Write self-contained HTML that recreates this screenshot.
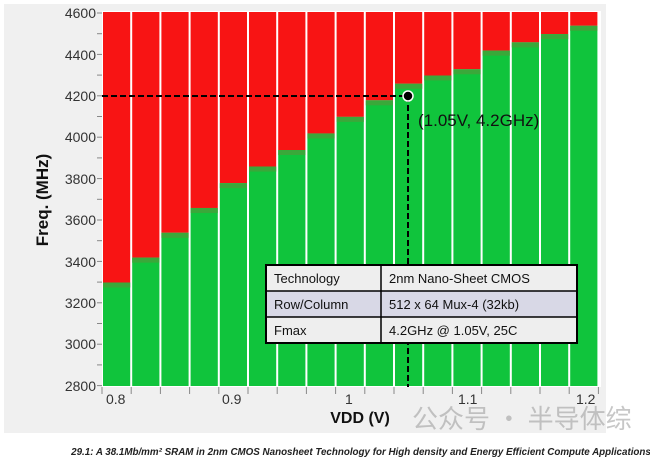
<!DOCTYPE html>
<html><head><meta charset="utf-8"><style>
body{margin:0;width:650px;height:469px;background:#fff;overflow:hidden;position:relative;font-family:"Liberation Sans",sans-serif}
</style></head><body>
<svg width="650" height="469" style="position:absolute;left:0;top:0" font-family="Liberation Sans, sans-serif">
<rect x="4" y="4" width="602" height="429" fill="#f0f0f0"/>
<rect x="102" y="11" width="499" height="376" fill="#fff"/>
<g id="bars"></g>
<g font-size="14" fill="#333" text-anchor="end">
<text x="96" y="18">4600</text><text x="96" y="60">4400</text><text x="96" y="101">4200</text><text x="96" y="142">4000</text><text x="96" y="184">3800</text><text x="96" y="225">3600</text><text x="96" y="267">3400</text><text x="96" y="308">3200</text><text x="96" y="349">3000</text><text x="96" y="391">2800</text>
</g>
<text transform="translate(48,200) rotate(-90)" font-size="17" font-weight="bold" fill="#111" text-anchor="middle">Freq. (MHz)</text>
<g font-size="14" fill="#333">
<text x="106" y="404">0.8</text><text x="222" y="404">0.9</text><text x="345" y="404">1</text><text x="458" y="404">1.1</text><text x="576" y="404">1.2</text>
</g>
<text x="360" y="423" font-size="16" font-weight="bold" fill="#111" text-anchor="middle">VDD (V)</text>
<text x="361" y="455" font-size="9.8" font-style="italic" font-weight="bold" fill="#222" text-anchor="middle">29.1: A 38.1Mb/mm² SRAM in 2nm CMOS Nanosheet Technology for High density and Energy Efficient Compute Applications</text>
<line x1="102" y1="96" x2="408" y2="96" stroke="#000" stroke-width="2" stroke-dasharray="6,3"/>
<line x1="408" y1="96" x2="408" y2="387" stroke="#000" stroke-width="2" stroke-dasharray="6,3"/>
<circle cx="408" cy="96" r="5" fill="#000" stroke="#fff" stroke-width="1.5"/>
<text x="418" y="126" font-size="17" fill="#111">(1.05V, 4.2GHz)</text>
<g font-size="13" fill="#111">
<rect x="266" y="265" width="311" height="26" fill="#eeeeee"/>
<rect x="266" y="291" width="311" height="26" fill="#d8d8e6"/>
<rect x="266" y="317" width="311" height="26" fill="#eeeeee"/>
<rect x="266" y="265" width="311" height="78" fill="none" stroke="#000" stroke-width="2"/>
<line x1="266" y1="291" x2="577" y2="291" stroke="#000" stroke-width="1.5"/>
<line x1="266" y1="317" x2="577" y2="317" stroke="#000" stroke-width="1.5"/>
<line x1="381" y1="265" x2="381" y2="343" stroke="#000" stroke-width="1.5"/>
<text x="274" y="283">Technology</text><text x="389" y="283">2nm Nano-Sheet CMOS</text>
<text x="274" y="309">Row/Column</text><text x="389" y="309">512 x 64 Mux-4 (32kb)</text>
<text x="274" y="335">Fmax</text><text x="389" y="335">4.2GHz @ 1.05V, 25C</text>
</g>
<text x="412" y="428" font-size="26" fill="#999" fill-opacity="0.55" font-family="Noto Sans CJK SC, sans-serif">公众号 · 半导体综</text>
</svg>
<script>
var tops=[3300,3420,3540,3660,3780,3860,3940,4020,4100,4180,4260,4300,4330,4420,4460,4500,4540];
var g=document.getElementById('bars'),s='';
function y(f){return 386-(f-2800)/200*41.4;}
var w=29.2;
for(var i=0;i<17;i++){var x=102+i*w;var t=y(tops[i]);
s+='<rect x="'+(x+1)+'" y="12" width="'+(w-2)+'" height="'+(t-12)+'" fill="#f81414"/>';
s+='<rect x="'+(x+1)+'" y="'+t+'" width="'+(w-2)+'" height="'+(386-t)+'" fill="#10c43c"/>';
s+='<rect x="'+(x+1)+'" y="'+t+'" width="'+(w-2)+'" height="5" fill="#3aa83a"/>';
}
for(var k=0;k<=17;k++){var x=102+k*w;s+='<line x1="'+x+'" y1="387" x2="'+x+'" y2="394" stroke="#888"/>';}
for(var k=0;k<=18;k++){var yy=13+k*20.7;s+='<line x1="97" y1="'+yy+'" x2="102" y2="'+yy+'" stroke="#888"/>';}
g.innerHTML=s;
</script>
</body></html>
